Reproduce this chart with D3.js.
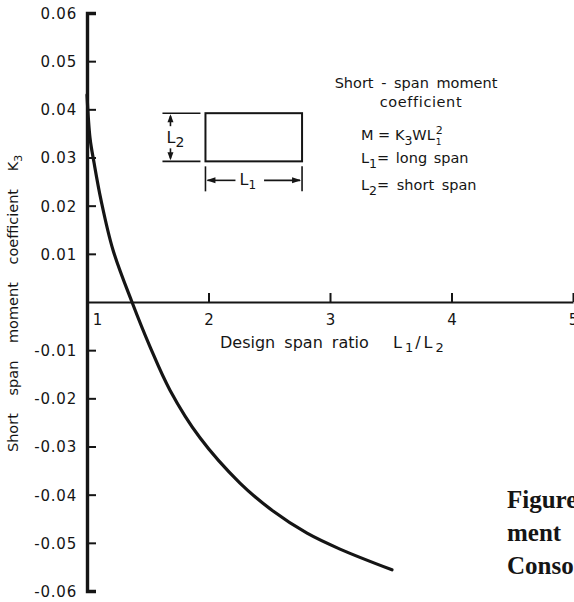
<!DOCTYPE html>
<html>
<head>
<meta charset="utf-8">
<script src="https://cdn.jsdelivr.net/npm/d3@7"></script>
<style>
  html, body { margin: 0; padding: 0; background: #fff; }
  svg { display: block; }
  text { fill: #151515; }
</style>
</head>
<body>
<svg id="chart" width="574" height="602"></svg>
<script>
// ---- data ----
const spanRatio = [1.0, 1.025, 1.058, 1.115, 1.214, 1.37, 1.519, 1.683, 1.93, 2.259, 2.531, 2.811, 3.082, 3.51];
const momentCoef = [0.043, 0.034, 0.0289, 0.0212, 0.0108, 0.0, -0.0093, -0.0183, -0.0282, -0.0376, -0.0434, -0.048, -0.0513, -0.0556];
const yTickValues = [0.06, 0.05, 0.04, 0.03, 0.02, 0.01, -0.01, -0.02, -0.03, -0.04, -0.05, -0.06];
const yTickLabels = ["0.06", "0.05", "0.04", "0.03", "0.02", "0.01", "-0.01", "-0.02", "-0.03", "-0.04", "-0.05", "-0.06"];
const xTickValues = [1, 2, 3, 4, 5];
const xTickLabels = ["1", "2", "3", "4", "5"];

const ink = "#151515";
const font = "'DejaVu Sans', sans-serif";

const svg = d3.select("#chart");
const x = d3.scaleLinear().domain([1, 5]).range([87, 573]);
const y = d3.scaleLinear().domain([-0.06, 0.06]).range([591, 13]);

// ---- y axis ----
const yAxis = d3.axisLeft(y)
  .tickValues(yTickValues)
  .tickFormat((d, i) => yTickLabels[i])
  .tickSizeInner(-9)
  .tickSizeOuter(-9)
  .tickPadding(10);
const gy = svg.append("g").attr("transform", `translate(${x(1)},0)`).call(yAxis);
gy.select(".domain").attr("stroke", ink).attr("stroke-width", 3.4).attr("fill", "none");
gy.selectAll(".tick line").attr("stroke", ink).attr("stroke-width", 2);
gy.selectAll(".tick text")
  .attr("font-family", font).attr("font-size", 15).attr("letter-spacing", 0.8)
  .attr("fill", ink).attr("dy", "0.36em");

// ---- x axis (zero line) ----
const xAxis = d3.axisBottom(x)
  .tickValues(xTickValues)
  .tickFormat((d, i) => xTickLabels[i])
  .tickSizeInner(-9)
  .tickSizeOuter(0)
  .tickPadding(12);
const gx = svg.append("g").attr("transform", `translate(0,${y(0)})`).call(xAxis);
gx.select(".domain").attr("stroke", ink).attr("stroke-width", 2.2);
gx.selectAll(".tick line").attr("stroke", ink).attr("stroke-width", 2);
gx.selectAll(".tick text")
  .attr("font-family", font).attr("font-size", 15).attr("fill", ink);
gx.selectAll(".tick").filter(d => d === 1).select("text").attr("x", 10);

// ---- curve ----
const pts = spanRatio.map((r, i) => [r, momentCoef[i]]);
const line = d3.line().x(d => x(d[0])).y(d => y(d[1])).curve(d3.curveCatmullRom.alpha(0.5));
svg.append("path").datum(pts)
  .attr("d", line)
  .attr("fill", "none").attr("stroke", ink).attr("stroke-width", 3.2)
  .attr("stroke-linecap", "round");

// ---- axis titles ----
const yTitle = svg.append("text")
  .attr("transform", `translate(18,${y(-0.0003)}) rotate(-90)`)
  .attr("text-anchor", "middle")
  .attr("font-family", font).attr("font-size", 14.5).attr("word-spacing", 13);
yTitle.append("tspan").text("Short span moment coefficient K");
yTitle.append("tspan").attr("font-size", 11).attr("dy", 4).text("3");

const xTitle = svg.append("text")
  .attr("x", 220).attr("y", y(0) + 46)
  .attr("font-family", font).attr("font-size", 16).attr("word-spacing", 4);
xTitle.append("tspan").text("Design span ratio");
xTitle.append("tspan").attr("x", 393).attr("letter-spacing", 3).text("L");
xTitle.append("tspan").attr("font-size", 13).attr("dy", 4).attr("letter-spacing", 2).text("1");
xTitle.append("tspan").attr("dy", -4).attr("letter-spacing", 3).text("/L");
xTitle.append("tspan").attr("font-size", 13).attr("dy", 4).text("2");

// ---- panel diagram (in data units) ----
const rectR = [1.975, 2.77];
const rectV = [0.0392, 0.0292];
const g = svg.append("g").attr("stroke", ink).attr("fill", "none");
g.append("rect")
  .attr("x", x(rectR[0])).attr("y", y(rectV[0]))
  .attr("width", x(rectR[1]) - x(rectR[0]))
  .attr("height", y(rectV[1]) - y(rectV[0]))
  .attr("stroke-width", 2);
const x0 = x(rectR[0]), x1 = x(rectR[1]), yT = y(rectV[0]), yB = y(rectV[1]);
// left extension lines
g.append("line").attr("x1", x0 - 43).attr("x2", x0 - 5).attr("y1", yT).attr("y2", yT).attr("stroke-width", 1.6);
g.append("line").attr("x1", x0 - 43).attr("x2", x0 - 5).attr("y1", yB).attr("y2", yB).attr("stroke-width", 1.6);
// bottom extension lines
g.append("line").attr("x1", x0).attr("x2", x0).attr("y1", yB + 5).attr("y2", yB + 30).attr("stroke-width", 1.6);
g.append("line").attr("x1", x1).attr("x2", x1).attr("y1", yB + 5).attr("y2", yB + 30).attr("stroke-width", 1.6);
// vertical arrows (L2)
const ax = x0 - 35;
g.append("line").attr("x1", ax).attr("x2", ax).attr("y1", yT + 3).attr("y2", yT + 13).attr("stroke-width", 1.6);
g.append("line").attr("x1", ax).attr("x2", ax).attr("y1", yB - 13).attr("y2", yB - 3).attr("stroke-width", 1.6);
svg.append("path").attr("fill", ink)
  .attr("d", `M${ax},${yT + 1} L${ax - 3},${yT + 9} L${ax + 3},${yT + 9} Z`);
svg.append("path").attr("fill", ink)
  .attr("d", `M${ax},${yB - 1} L${ax - 3},${yB - 9} L${ax + 3},${yB - 9} Z`);
const l2 = svg.append("text").attr("x", x0 - 39).attr("y", (yT + yB) / 2 + 6)
  .attr("font-family", font).attr("font-size", 16);
l2.append("tspan").text("L");
l2.append("tspan").attr("font-size", 14).attr("dy", 4).text("2");
// horizontal arrows (L1)
const ay = yB + 19;
g.append("line").attr("x1", x0 + 2).attr("x2", x0 + 30).attr("y1", ay).attr("y2", ay).attr("stroke-width", 1.6);
g.append("line").attr("x1", x1 - 38).attr("x2", x1 - 2).attr("y1", ay).attr("y2", ay).attr("stroke-width", 1.6);
svg.append("path").attr("fill", ink)
  .attr("d", `M${x0 + 1},${ay} L${x0 + 10},${ay - 3} L${x0 + 10},${ay + 3} Z`);
svg.append("path").attr("fill", ink)
  .attr("d", `M${x1 - 1},${ay} L${x1 - 10},${ay - 3} L${x1 - 10},${ay + 3} Z`);
const l1 = svg.append("text").attr("x", x0 + 34).attr("y", ay + 5)
  .attr("font-family", font).attr("font-size", 16);
l1.append("tspan").text("L");
l1.append("tspan").attr("font-size", 12).attr("dy", 4).text("1");

// ---- legend text ----
svg.append("text").attr("x", 416).attr("y", 88).attr("text-anchor", "middle")
  .attr("font-family", font).attr("font-size", 14.5).attr("word-spacing", 3)
  .text("Short - span moment");
svg.append("text").attr("x", 421).attr("y", 107).attr("text-anchor", "middle")
  .attr("font-family", font).attr("font-size", 14.5).attr("letter-spacing", 0.6)
  .text("coefficient");

const fM = svg.append("text").attr("x", 361).attr("y", 140)
  .attr("font-family", font).attr("font-size", 14.5);
fM.append("tspan").text("M = K");
fM.append("tspan").attr("font-size", 12.5).attr("dy", 5).text("3");
fM.append("tspan").attr("dy", -5).text("WL");
const fmEnd = 361 + fM.node().getComputedTextLength();
svg.append("text").attr("x", fmEnd + 1).attr("y", 134)
  .attr("font-family", font).attr("font-size", 11).text("2");
svg.append("text").attr("x", fmEnd + 1).attr("y", 145)
  .attr("font-family", font).attr("font-size", 9).text("1");

const fL1 = svg.append("text").attr("x", 361).attr("y", 163)
  .attr("font-family", font).attr("font-size", 14.5).attr("word-spacing", 2);
fL1.append("tspan").text("L");
fL1.append("tspan").attr("font-size", 12.5).attr("dy", 5).text("1");
fL1.append("tspan").attr("dy", -5).text("= long span");

const fL2 = svg.append("text").attr("x", 361).attr("y", 190)
  .attr("font-family", font).attr("font-size", 14.5).attr("word-spacing", 3);
fL2.append("tspan").text("L");
fL2.append("tspan").attr("font-size", 12.5).attr("dy", 5).text("2");
fL2.append("tspan").attr("dy", -5).text("= short span");

// ---- page text cut off at right ----
const serif = "'Liberation Serif', 'DejaVu Serif', serif";
["Figure", "ment", "Conso"].forEach((t, i) => {
  svg.append("text").attr("x", 507).attr("y", 508 + i * 33)
    .attr("font-family", serif).attr("font-weight", "bold").attr("font-size", 25)
    .attr("fill", "#1e1e1e").text(t);
});
</script>
</body>
</html>
